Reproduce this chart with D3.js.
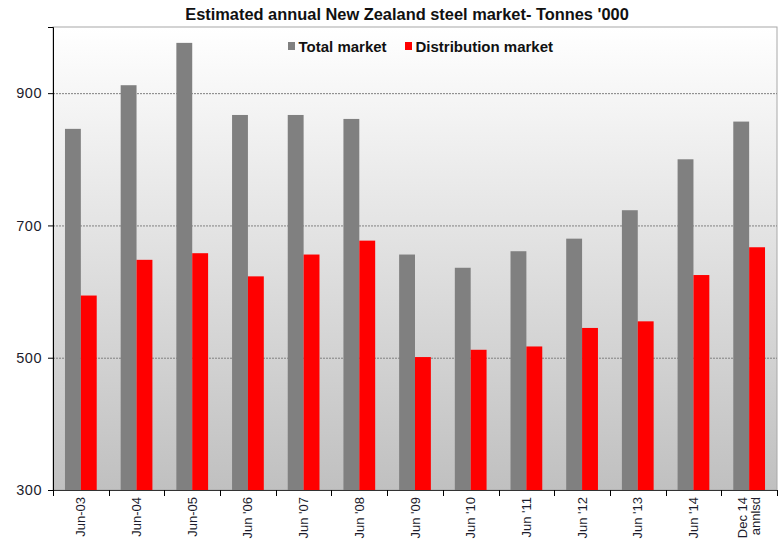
<!DOCTYPE html>
<html lang="en">
<head>
<meta charset="utf-8">
<title>Estimated annual New Zealand steel market</title>
<script src="https://cdn.jsdelivr.net/npm/d3@7"></script>
<style>
  body { margin: 0; background: #fff; }
  svg { display: block; font-family: "Liberation Sans", Arial, sans-serif; }
</style>
</head>
<body>
<script>
// chart data
var periods = ["Jun-03", "Jun-04", "Jun-05", "Jun '06", "Jun '07", "Jun '08", "Jun '09",
               "Jun '10", "Jun '11", "Jun '12", "Jun '13", "Jun '14", "Dec 14\nannlsd"];
var seriesNames = ["Total market", "Distribution market"];
var totalMarket = [846, 912, 976, 867, 867, 861, 656, 636, 661, 680, 723, 800, 857];
var distributionMarket = [594, 648, 658, 623, 656, 677, 501, 512, 517, 545, 555, 625, 667];
var yTicks = [300, 500, 700, 900];

var width = 783, height = 541;
var margin = {top: 27, right: 6, bottom: 51, left: 53};
var innerW = width - margin.left - margin.right,
    innerH = height - margin.top - margin.bottom;

var colors = {"Total market": "#808080", "Distribution market": "#ff0000"};

var svg = d3.select("body").append("svg")
    .attr("width", width)
    .attr("height", height);

var defs = svg.append("defs");
var grad = defs.append("linearGradient")
    .attr("id", "bg")
    .attr("x1", 0).attr("y1", 0).attr("x2", 0).attr("y2", 1);
grad.append("stop").attr("offset", "0%").attr("stop-color", "#ffffff");
grad.append("stop").attr("offset", "100%").attr("stop-color", "#c0c0c0");

var g = svg.append("g")
    .attr("transform", "translate(" + margin.left + "," + margin.top + ")");

var x0 = d3.scaleBand()
    .domain(periods)
    .range([0, innerW])
    .padding(0);

var pad = x0.bandwidth() * 0.215;
var x1 = d3.scaleBand()
    .domain(seriesNames)
    .range([pad, x0.bandwidth() - pad]);

var y = d3.scaleLinear()
    .domain([300, 1000])
    .range([innerH, 0]);

// plot background
g.append("rect")
    .attr("width", innerW)
    .attr("height", innerH)
    .attr("fill", "url(#bg)")
    .attr("stroke", "#a8a8a8")
    .attr("stroke-width", 1);

// gridlines
g.selectAll(".grid")
    .data(yTicks.filter(function(d) { return d > 300; }))
    .enter().append("line")
    .attr("class", "grid")
    .attr("x1", 0).attr("x2", innerW)
    .attr("y1", function(d) { return y(d) + 0.5; })
    .attr("y2", function(d) { return y(d) + 0.5; })
    .attr("stroke", "#808080")
    .attr("stroke-width", 1)
    .attr("stroke-dasharray", "2,1");

// bars
var rows = periods.map(function(p, i) {
  return {period: p, values: [
    {key: "Total market", value: totalMarket[i]},
    {key: "Distribution market", value: distributionMarket[i]}
  ]};
});

var groups = g.selectAll(".period")
    .data(rows)
    .enter().append("g")
    .attr("class", "period")
    .attr("transform", function(d) { return "translate(" + x0(d.period) + ",0)"; });

groups.selectAll("rect")
    .data(function(d) { return d.values; })
    .enter().append("rect")
    .attr("x", function(d) { return x1(d.key); })
    .attr("width", x1.bandwidth())
    .attr("y", function(d) { return y(d.value); })
    .attr("height", function(d) { return innerH - y(d.value); })
    .attr("fill", function(d) { return colors[d.key]; });

// y axis
var yAxis = g.append("g")
    .attr("class", "y axis")
    .call(d3.axisLeft(y).tickValues(yTicks).tickSize(5).tickPadding(6));
yAxis.select(".domain").attr("stroke", "#000");
yAxis.selectAll("text")
    .attr("font-family", "'Liberation Sans', Arial, sans-serif")
    .attr("font-size", 14.5)
    .attr("fill", "#1c1c2c")
    .attr("letter-spacing", 0.5);

// x axis
var xAxis = g.append("g")
    .attr("class", "x axis")
    .attr("transform", "translate(0," + innerH + ")")
    .call(d3.axisBottom(x0).tickSize(0).tickFormat(""));
xAxis.select(".domain").attr("stroke", "#333");

// ticks at the band boundaries
var edges = periods.map(function(p) { return x0(p); }).concat([innerW]);
xAxis.selectAll(".edge")
    .data(edges)
    .enter().append("line")
    .attr("class", "edge")
    .attr("x1", function(d) { return Math.round(d) + 0.5; })
    .attr("x2", function(d) { return Math.round(d) + 0.5; })
    .attr("y1", 0).attr("y2", 6)
    .attr("stroke", "#000");

// rotated category labels
var labels = xAxis.selectAll(".lbl")
    .data(periods)
    .enter().append("text")
    .attr("class", "lbl")
    .attr("text-anchor", "end")
    .attr("font-family", "'Liberation Sans', Arial, sans-serif")
    .attr("font-size", 13)
    .attr("fill", "#1c1c2c")
    .attr("transform", function(d) {
      return "translate(" + (x0(d) + x0.bandwidth() / 2) + ",7) rotate(-90)";
    });
labels.each(function(d) {
  var lines = d.split("\n");
  var t = d3.select(this);
  lines.forEach(function(line, i) {
    t.append("tspan")
      .attr("x", 0)
      .attr("y", (i - (lines.length - 1) / 2) * 13.5 + 4.5)
      .text(line);
  });
});

// title
svg.append("text")
    .attr("x", 407)
    .attr("y", 20)
    .attr("text-anchor", "middle")
    .attr("font-size", 16.4)
    .attr("font-weight", "bold")
    .attr("fill", "#111")
    .text("Estimated annual New Zealand steel market- Tonnes '000");

// legend
var legendX = [288, 405];
var legend = svg.append("g").attr("class", "legend");
var items = legend.selectAll("g")
    .data(seriesNames)
    .enter().append("g")
    .attr("transform", function(d, i) { return "translate(" + legendX[i] + ",40)"; });
items.append("rect")
    .attr("width", 7).attr("height", 8)
    .attr("y", 2)
    .attr("fill", function(d) { return colors[d]; });
items.append("text")
    .attr("x", 10.5)
    .attr("y", 12)
    .attr("font-size", 15)
    .attr("font-weight", "bold")
    .attr("fill", "#111")
    .text(function(d) { return d; });
</script>
</body>
</html>
